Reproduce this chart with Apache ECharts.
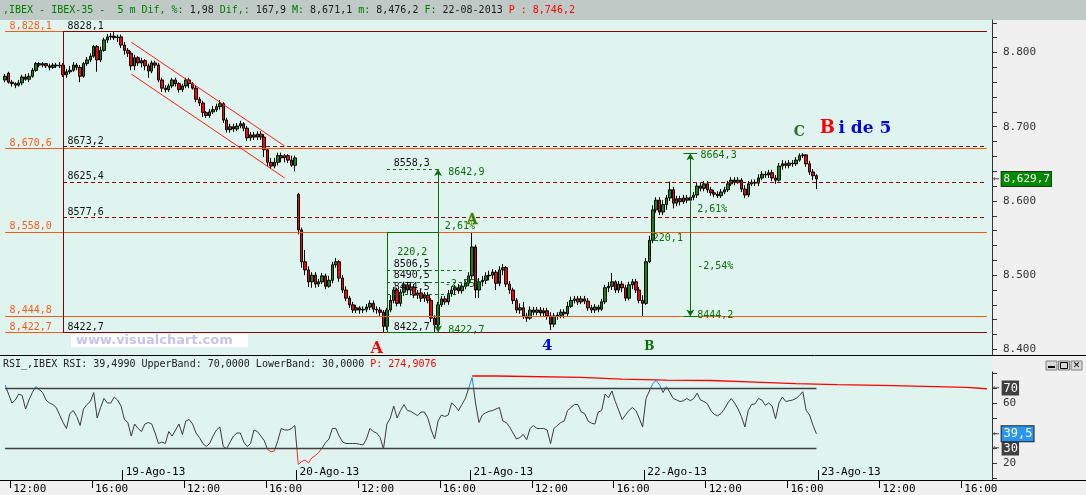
<!DOCTYPE html>
<html><head><meta charset="utf-8">
<script src="https://cdn.jsdelivr.net/npm/echarts@6/dist/echarts.min.js"></script>
<style>html,body{margin:0;padding:0;background:#f0f0f0;overflow:hidden}#c{width:1086px;height:495px}</style>
</head><body><div id="c"></div>
<script>
// ---------- DATA ----------
const days = ['16-Ago-13','19-Ago-13','20-Ago-13','21-Ago-13','22-Ago-13','23-Ago-13'];
// 10-minute candles [open, close, low, high]
const c16 = [[8763,8768,8760,8771],[8772,8760,8758,8774],[8760,8758,8754,8763],[8758,8756,8752,8760],[8756,8759,8754,8763],[8759,8767,8756,8770],[8767,8764,8762,8771],[8764,8768,8760,8772],[8768,8776,8766,8779],[8776,8785,8774,8787],
[8785,8783,8780,8787],[8783,8785,8780,8787],[8785,8782,8779,8786],[8782,8780,8776,8785],[8780,8783,8778,8786],[8783,8782,8779,8786],[8782,8783,8779,8787],[8783,8770,8767,8786],[8770,8774,8766,8778],[8774,8776,8771,8782],
[8776,8783,8774,8787],[8783,8780,8776,8786],[8780,8768,8760,8783],[8768,8785,8766,8787],[8785,8790,8782,8794],[8790,8795,8787,8799],[8795,8808,8793,8810],[8808,8790,8774,8810],[8790,8803,8787,8808],[8803,8817,8801,8820],
[8817,8821,8813,8825],[8821,8822,8817,8826],[8822,8820,8817,8828.1],[8820,8821,8814,8824],[8821,8810,8806,8824]];
const c19 = [[8810,8803,8797,8814],[8803,8799,8794,8806],[8799,8782,8776,8802],[8782,8793,8776,8797],[8793,8786,8782,8795],[8786,8789,8780,8793],[8789,8782,8776,8791],[8782,8775,8766,8785],[8775,8786,8772,8789],[8786,8783,8779,8789],
[8783,8763,8760,8786],[8763,8752,8747,8766],[8752,8750,8746,8756],[8750,8755,8747,8758],[8755,8763,8752,8766],[8763,8758,8754,8766],[8758,8750,8746,8760],[8750,8755,8747,8758],[8755,8763,8752,8766],[8763,8758,8752,8766],
[8758,8752,8750,8760],[8752,8737,8733,8755],[8737,8732,8728,8740],[8732,8719,8713,8735],[8719,8715,8712,8721],[8715,8720,8712,8724],[8720,8723,8717,8728],[8723,8727,8720,8731],[8727,8731,8723,8736],[8731,8709,8705,8733],
[8709,8696,8692,8712],[8696,8700,8692,8704],[8700,8697,8693,8704],[8697,8701,8694,8705],[8701,8704,8698,8708],[8704,8698,8694,8706],[8698,8685,8681,8701],[8685,8689,8681,8693],[8689,8686,8682,8693],[8686,8690,8682,8694],
[8690,8686,8682,8694],[8686,8669,8659,8690],[8669,8652,8647,8671],[8652,8647,8643,8658],[8647,8652,8644,8658],[8652,8661,8648,8665],[8661,8658,8652,8665],[8658,8661,8652,8663],[8661,8655,8651,8663],[8655,8648,8646,8661],
[8648,8658,8640,8661]];
const c20 = [[8609,8561,8555,8611],[8561,8518,8510,8564],[8518,8507,8500,8534],[8507,8491,8484,8512],[8491,8500,8483,8504],[8500,8488,8483,8504],[8488,8491,8484,8495],[8491,8499,8488,8503],[8499,8485,8481,8502],[8485,8493,8483,8499],
[8493,8514,8489,8518],[8514,8518,8510,8523],[8518,8496,8491,8520],[8496,8480,8476,8500],[8480,8469,8465,8485],[8469,8460,8456,8472],[8460,8453,8449,8464],[8453,8456,8449,8460],[8456,8453,8448,8458],[8453,8454,8449,8458],
[8454,8457,8450,8461],[8457,8462,8453,8466],[8462,8454,8450,8466],[8454,8453,8448,8458],[8453,8450,8445,8457],[8450,8431,8422.7,8453],[8431,8453,8426,8456],[8453,8466,8450,8473],[8466,8480,8462,8484],[8480,8462,8458,8483],
[8462,8477,8458,8481],[8477,8487,8472,8491],[8487,8480,8475,8491],[8480,8484,8473,8489],[8484,8473,8469,8488],[8473,8476,8468,8480],[8476,8469,8464,8480],[8469,8473,8464,8477],[8473,8466,8462,8477],[8466,8442,8437,8469],
[8442,8433,8422.7,8446],[8433,8460,8429,8464],[8460,8468,8457,8472],[8468,8464,8460,8472],[8464,8475,8460,8480],[8475,8480,8471,8485],[8480,8483,8473,8487],[8483,8479,8475,8488],[8479,8485,8475,8489],[8485,8489,8481,8493],
[8489,8499,8485,8504]];
const c21 = [[8499,8538,8495,8558.3],[8538,8480,8469,8541],[8480,8491,8469,8496],[8491,8493,8485,8499],[8493,8499,8488,8504],[8499,8500,8493,8506],[8500,8504,8495,8508],[8504,8489,8480,8507],[8489,8507,8485,8512],[8507,8510,8500,8515],
[8510,8488,8484,8512],[8488,8480,8475,8492],[8480,8466,8461,8483],[8466,8453,8449,8469],[8453,8456,8448,8462],[8456,8445,8441,8464],[8445,8442,8437,8449],[8442,8453,8440,8458],[8453,8450,8446,8457],[8450,8453,8446,8457],
[8453,8449,8445,8457],[8449,8452,8445,8456],[8452,8445,8440,8456],[8445,8434,8426,8450],[8434,8445,8430,8449],[8445,8446,8440,8450],[8446,8450,8442,8454],[8450,8448,8442,8454],[8448,8458,8445,8464],[8458,8466,8456,8471],
[8466,8468,8462,8472],[8468,8464,8460,8472],[8464,8468,8461,8472],[8468,8465,8461,8472],[8465,8456,8452,8469],[8456,8453,8449,8460],[8453,8457,8449,8461],[8457,8454,8450,8460],[8454,8464,8452,8468],[8464,8483,8461,8487],
[8483,8485,8477,8491],[8485,8491,8480,8503],[8491,8480,8476,8493],[8480,8488,8476,8492],[8488,8483,8477,8492],[8483,8469,8465,8487],[8469,8487,8466,8491],[8487,8491,8481,8495],[8491,8480,8476,8495],[8480,8466,8462,8484],
[8466,8462,8444.2,8473]];
const c22 = [[8462,8518,8460,8523],[8518,8547,8516,8553],[8547,8588,8543,8594],[8588,8601,8584,8605],[8601,8585,8581,8605],[8585,8595,8581,8601],[8595,8604,8588,8608],[8604,8615,8600,8626],[8615,8597,8590,8619],[8597,8603,8593,8607],
[8603,8599,8594,8607],[8599,8604,8596,8608],[8604,8601,8597,8608],[8601,8605,8599,8609],[8605,8608,8601,8612],[8608,8620,8604,8624],[8620,8617,8613,8624],[8617,8623,8613,8627],[8623,8615,8611,8627],[8615,8611,8607,8619],
[8611,8609,8605,8615],[8609,8607,8604,8613],[8607,8612,8604,8616],[8612,8615,8609,8619],[8615,8623,8612,8627],[8623,8628,8620,8632],[8628,8625,8621,8632],[8625,8628,8623,8632],[8628,8616,8612,8631],[8616,8608,8604,8621],
[8608,8623,8605,8627],[8623,8625,8620,8629],[8625,8624,8620,8629],[8624,8631,8620,8636],[8631,8636,8628,8640],[8636,8635,8631,8640],[8635,8638,8631,8642],[8638,8631,8627,8642],[8631,8628,8623,8635],[8628,8647,8626,8651],
[8647,8650,8642,8655],[8650,8648,8644,8654],[8648,8651,8644,8655],[8651,8650,8646,8655],[8650,8655,8647,8659],[8655,8661,8653,8664],[8661,8662,8658,8664.3],[8662,8650,8646,8663],[8650,8639,8635,8654],[8639,8634,8628,8643],
[8634,8629.7,8616,8636]];
// RSI per 10-minute bar
const r16 = [72,66,60,62,66,65,56,62,67,71,69,67,62,60,59,57,52,47,43,53,55,51,45,56,59,61,67,50,57,63,60,60,64,62,58];
const r19 = [49,47,38,46,43,41,46,47,46,40,33,34,33,41,38,42,46,39,48,49,46,40,37,33,31,33,38,42,44,31,29.5,34,38,40,40,34,31,33,42,41,38,35,29,27.5,28,35,43,42,42,43,45];
const r20 = [19,21,22,20,23.5,25,27,30,33.5,36,43,43,38,34,33,33,33,33,32.5,32,36,43,41,40,37,29.5,46,50,58,50,55,59,55,54.5,53,51.5,54,54,50,42,36,48,52,51,52,60,58,55,59,63,70];
const r21 = [77,60,47,52,53.5,54.5,55,56,57,48,47,44,40,36,37,39,35.5,43,45,43,43,43,42,33,43,45,47,48,55,57,59,59,54,53,48,46.5,46,54,55,66,63.5,68,61,55,49,52,55,57,55,50,44];
const r22 = [63,68,73,75,72,67,71,67,63,62,61,61.5,63,61.5,63,66.5,62,61,59.5,55,52.5,51.5,53,56,60,63,60,56,51,44,55,59,59.5,63,62,58.5,60,58,49.5,60,64,61,61.5,62,63,65,67.5,55,52,45,39.5];
// red "P" band (step line): bar index where each step starts, and its value
const pStepK = [138,145,170,182,195,208,221,233,245,258,271,283,289];
const pStepV = [78,77.1,75.9,75.3,75,73.9,72.9,72.3,71.8,71.1,70.4,69.5,69.5];
// levels
const orangeLevels = [8828.1, 8670.6, 8558.0, 8444.8, 8422.7];
const orangeLabels = ['8,828,1','8,670,6','8,558,0','8,444,8','8,422,7'];
const fiboLevels = [8828.1, 8673.2, 8625.4, 8577.6, 8422.7];
const fiboLabels = ['8828,1','8673,2','8625,4','8577,6','8422,7'];
const chanK = [38, 83];
const chanUpper = [8814, 8674];
const chanLower = [8771, 8631];
const tool1K = [113, 128];
const tool1Levels = [8558.3, 8422.7, 8642.9];
const tool1Fibo = [8506.5, 8490.5, 8474.5];
const tool1FiboEnd = [136, 138, 134];
const tool2K = 202;
const tool2Levels = [8664.3, 8444.2];
const lastPrice = 8629.7;
const rsiLast = 39.5;
const priceTicks = [8400, 8500, 8600, 8700, 8800];
const rsiTicks = [20, 60];
const noteText  = ['8558,3','8642,9','2,61%','220,2','8506,5','8490,5','8474,5','-2,55%','8422,7','8422,7','8664,3','2,61%','-2,54%','8444,2','220,1'];
const noteK     = [115,131,130,116,115,115,115,130,115,131,205,204,204,204,191];
const notePrice = [8651,8639,8566,8530,8514,8499,8483,8488,8430,8425,8661,8588,8512,8446,8550];
const noteBlack = [true,false,false,false,true,true,true,false,true,false,false,false,false,false,false];
const waveText  = ['A','4','B','C','A'];
const waveK     = [110,160,190,234,138];
const wavePrice = [8400.4,8404.4,8403,8693,8574];

// ---------- BUILD ----------
const MONO = "'DejaVu Sans Mono', monospace";
const SERIF = "'DejaVu Serif', 'Liberation Serif', serif";
const ORANGE = '#ff5a14', DRED = '#8c0000', GREEN = '#0a6e0a';
const cats = [];
days.forEach((d, i) => {
  const start = i === 0 ? 11 * 60 + 30 : 9 * 60;
  for (let m = start; m < 17 * 60 + 30; m += 10) {
    cats.push(d + ' ' + String(Math.floor(m / 60)).padStart(2, '0') + ':' + String(m % 60).padStart(2, '0'));
  }
});
const NB = cats.length;
const timeIdx = [], dayIdx = [];
cats.forEach((c, i) => { if (/(12:00|16:00)$/.test(c)) timeIdx.push(i); if (/ 09:00$/.test(c)) dayIdx.push(i); });
const blank = ['-', '-', '-', '-'];
const candles = [blank].concat(c16, c19, c20, c21, c22);
while (candles.length < NB) candles.push(blank);
const rsi = ['-'].concat(r16, r19, r20, r21, r22);
const LAST = 289;

function seg(p1, p2, lineStyle, label, arrows) {
  const a = { coord: p1, lineStyle: lineStyle, label: label || { show: false } };
  const b = { coord: p2 };
  if (arrows) { a.symbol = 'arrow'; b.symbol = 'arrow'; a.symbolSize = [6, 7]; b.symbolSize = [6, 7]; }
  return [a, b];
}
function topLab(text, color) {
  return { show: true, position: 'insideStartTop', formatter: text, color: color, fontFamily: MONO, fontSize: 10, distance: 0.5, padding: [0, 0, 0, 4] };
}
const solidO = { color: ORANGE, width: 1, type: 'solid' };
const solidR = { color: DRED, width: 1, type: 'solid' };
const dashR = { color: DRED, width: 1, type: [4, 3] };
const solidG = { color: GREEN, width: 1, type: 'solid' };
const dashG = { color: GREEN, width: 1, type: [3, 3] };
const chan = { color: '#ff1a1a', width: 1, type: 'solid' };

const mainLines = [];
orangeLevels.forEach((v, i) => {
  const end = (i === 0 || i === 4) ? 18 : LAST;
  mainLines.push(seg([1, v], [end, v], solidO, topLab(orangeLabels[i], ORANGE)));
});
fiboLevels.forEach((v, i) => {
  const st = (i === 0 || i === 4) ? solidR : dashR;
  mainLines.push(seg([18, v], [LAST, v], st, topLab(fiboLabels[i], '#111')));
});
mainLines.push(seg([18, fiboLevels[0]], [18, fiboLevels[4]], solidR));
mainLines.push(seg([chanK[0], chanUpper[0]], [chanK[1], chanUpper[1]], chan));
mainLines.push(seg([chanK[0], chanLower[0]], [chanK[1], chanLower[1]], chan));
// tool 1
mainLines.push(seg([tool1K[0], tool1Levels[0]], [tool1K[1], tool1Levels[0]], solidG));
mainLines.push(seg([tool1K[0], tool1Levels[1]], [tool1K[1], tool1Levels[1]], solidG));
mainLines.push(seg([tool1K[0], tool1Levels[0]], [tool1K[0], tool1Levels[1]], solidG));
mainLines.push(seg([tool1K[0], tool1Levels[2]], [tool1K[1], tool1Levels[2]], dashG));
mainLines.push(seg([tool1K[1], tool1Levels[1]], [tool1K[1], tool1Levels[2]], solidG, null, true));
tool1Fibo.forEach((v, i) => mainLines.push(seg([tool1K[0], v], [tool1FiboEnd[i], v], dashG)));
// tool 2
mainLines.push(seg([tool2K, tool2Levels[1]], [tool2K, tool2Levels[0]], solidG, null, true));
mainLines.push(seg([tool2K - 2, tool2Levels[0]], [tool2K + 2, tool2Levels[0]], solidG));
mainLines.push(seg([tool2K - 2, tool2Levels[1]], [tool2K + 2, tool2Levels[1]], solidG));
// last price box
mainLines.push({ yAxis: lastPrice, lineStyle: { color: 'rgba(0,0,0,0)', width: 0 },
  label: { show: true, position: 'end', distance: 1, formatter: '{a|←}{b|8,629,7}',
    rich: { a: { color: '#555', fontSize: 11, fontFamily: MONO, padding: [0, 2, 0, 0] },
            b: { backgroundColor: '#008a00', borderColor: '#1a3a1a', borderWidth: 1, color: '#fff', fontSize: 11, fontFamily: MONO, padding: [2, 1, 1, 2] } } } });

const points = [];
noteText.forEach((t, i) => points.push({ coord: [noteK[i], notePrice[i]], symbolSize: 0,
  label: { show: true, position: 'right', distance: 0, formatter: t, color: noteBlack[i] ? '#111' : GREEN, fontFamily: MONO, fontSize: 10 } }));
const waveStyle = [
  { color: '#ff0000', fontSize: 16 }, { color: '#0000ee', fontSize: 15 }, { color: '#0a6e0a', fontSize: 12 },
  { color: '#2e6e22', fontSize: 14 }, { color: '#2e7d3e', fontSize: 14, textBorderColor: '#d8c830', textBorderWidth: 1 }];
waveText.forEach((t, i) => points.push({ coord: [waveK[i], wavePrice[i]], symbolSize: 0,
  label: Object.assign({ show: true, position: 'inside', formatter: t, fontWeight: 'bold', fontFamily: SERIF }, waveStyle[i]) }));
points.push({ coord: [240, 8698], symbolSize: 0,
  label: { show: true, position: 'right', distance: 0, formatter: '{r|B} {b|i de 5}',
    rich: { r: { color: '#ff0000', fontSize: 18, fontWeight: 'bold', fontFamily: SERIF },
            b: { color: '#0000ee', fontSize: 17, fontWeight: 'bold', fontFamily: SERIF } } } });

const boxRich = (bg) => ({ a: { color: '#555', fontSize: 11, fontFamily: MONO, padding: [0, 2, 0, 0] },
  b: { backgroundColor: bg, color: '#fff', fontSize: 12, fontFamily: MONO, padding: [2, 1, 1, 2], borderColor: '#222', borderWidth: bg === '#404040' ? 0 : 1 } });
const rsiLineStyle = { color: '#404040', width: 1.3, type: 'solid' };
const rsiLines = [
  seg([1, 70], [239, 70], rsiLineStyle), seg([1, 30], [239, 30], rsiLineStyle),
  { yAxis: 70, lineStyle: { color: 'rgba(0,0,0,0)', width: 0 }, label: { show: true, position: 'end', distance: 1, formatter: '{a|←}{b|70}', rich: boxRich('#404040') } },
  { yAxis: 30, lineStyle: { color: 'rgba(0,0,0,0)', width: 0 }, label: { show: true, position: 'end', distance: 1, formatter: '{a|←}{b|30}', rich: boxRich('#404040') } },
  { yAxis: rsiLast, lineStyle: { color: 'rgba(0,0,0,0)', width: 0 }, label: { show: true, position: 'end', distance: 1, formatter: '{a|←}{b|39,5}', rich: boxRich('#2896ee') } }
];

const range = (a, b, s) => { const r = []; for (let v = a; v <= b; v += s) r.push(v); return r; };

const chart = echarts.init(document.getElementById('c'), null, { renderer: 'canvas' });
chart.setOption({
  animation: false,
  backgroundColor: '#f0f0f0',
  grid: [
    { left: 0, top: 20, width: 992, height: 335 },
    { left: 0, top: 372, width: 992, height: 108 }
  ],
  xAxis: [
    { type: 'category', gridIndex: 0, data: cats, show: false },
    { type: 'category', gridIndex: 1, data: cats, show: false },
    { type: 'value', gridIndex: 1, min: 0, max: NB, position: 'bottom',
      axisLine: { show: true, onZero: false, lineStyle: { color: '#000', width: 1 } },
      axisTick: { show: true, customValues: timeIdx, length: 8, lineStyle: { color: '#000' } },
      axisLabel: { customValues: timeIdx, formatter: v => cats[v].slice(-5), align: 'left', padding: [0, 0, 0, 3], margin: 4, color: '#000', fontFamily: MONO, fontSize: 11 },
      splitLine: { show: false } },
    { type: 'value', gridIndex: 1, min: 0, max: NB, position: 'bottom',
      axisLine: { show: false, onZero: false },
      axisTick: { show: true, inside: true, customValues: dayIdx, length: 10, lineStyle: { color: '#000' } },
      axisLabel: { inside: true, customValues: dayIdx, formatter: v => cats[v].slice(0, 9), align: 'left', padding: [0, 0, 0, 3], margin: 2, color: '#000', fontFamily: MONO, fontSize: 11 },
      splitLine: { show: false } }
  ],
  yAxis: [
    { type: 'value', gridIndex: 0, position: 'right', min: 8392.4, max: 8843.8,
      axisLine: { show: true, onZero: false, lineStyle: { color: '#333' } },
      axisTick: { show: true, customValues: range(8400, 8840, 20), length: 5, lineStyle: { color: '#333' } },
      axisLabel: { customValues: priceTicks, formatter: v => (v / 1000).toFixed(3), margin: 11, color: '#333', fontFamily: MONO, fontSize: 11 },
      splitLine: { show: false } },
    { type: 'value', gridIndex: 1, position: 'right', min: 8.67, max: 80.67,
      axisLine: { show: true, onZero: false, lineStyle: { color: '#333' } },
      axisTick: { show: true, customValues: range(10, 80, 10), length: 5, lineStyle: { color: '#333' } },
      axisLabel: { customValues: rsiTicks, margin: 11, color: '#333', fontFamily: MONO, fontSize: 11 },
      splitLine: { show: false } }
  ],
  visualMap: { show: false, type: 'piecewise', seriesIndex: 1, dimension: 1,
    pieces: [{ gt: 70, color: '#1e88e8' }, { lt: 30, color: '#ff2a2a' }, { gte: 30, lte: 70, color: '#3a3a3a' }] },
  series: [
    { type: 'candlestick', xAxisIndex: 0, yAxisIndex: 0, data: candles, barWidth: 3,
      itemStyle: { color: '#0b8a0b', color0: '#ff0000', borderColor: '#000', borderColor0: '#000', borderWidth: 1 },
      markLine: { silent: true, symbol: ['none', 'none'], label: { show: false }, data: mainLines, animation: false },
      markPoint: { silent: true, symbol: 'circle', itemStyle: { color: 'rgba(0,0,0,0)' }, data: points, animation: false } },
    { type: 'line', xAxisIndex: 1, yAxisIndex: 1, data: rsi, showSymbol: false, symbol: 'none',
      lineStyle: { width: 1 }, z: 3,
      markLine: { silent: true, symbol: ['none', 'none'], label: { show: false }, data: rsiLines, animation: false } },
    { type: 'line', xAxisIndex: 1, yAxisIndex: 1, step: 'end', showSymbol: false, symbol: 'none',
      data: pStepK.map((k, i) => [k, pStepV[i]]), lineStyle: { color: '#ff0000', width: 1.3 }, itemStyle: { color: '#ff0000' } }
  ],
  graphic: [
    { type: 'rect', z: -10, silent: true, shape: { x: 0, y: 0, width: 1086, height: 20 }, style: { fill: '#bfcac6' } },
    { type: 'rect', z: -10, silent: true, shape: { x: 0, y: 20, width: 992, height: 335 }, style: { fill: '#e0f4ef' } },
    { type: 'rect', z: -10, silent: true, shape: { x: 0, y: 356, width: 992, height: 124 }, style: { fill: '#e0f4ef' } },
    { type: 'line', z: 50, silent: true, shape: { x1: 0, y1: 355.5, x2: 1086, y2: 355.5 }, style: { stroke: '#000', lineWidth: 1 } },
    { type: 'line', z: 50, silent: true, shape: { x1: 0, y1: 480.5, x2: 1086, y2: 480.5 }, style: { stroke: '#000', lineWidth: 1 } },
    { type: 'text', z: 50, silent: true, style: { x: 3, y: 10, verticalAlign: 'middle', font: "10px 'DejaVu Sans Mono'",
      text: '{g|,IBEX - IBEX-35 -  5 m Dif, %: }{k|1,98 }{g|Dif,: }{k|167,9 }{g|M: }{k|8,671,1 }{g|m: }{k|8,476,2 }{g|F: }{k|22-08-2013 }{r|P : 8,746,2}',
      rich: { g: { fill: '#007a00', font: "10px 'DejaVu Sans Mono'" }, k: { fill: '#1a1a1a', font: "10px 'DejaVu Sans Mono'" }, r: { fill: '#ff0000', font: "10px 'DejaVu Sans Mono'" } } } },
    { type: 'text', z: 50, silent: true, style: { x: 3, y: 364, verticalAlign: 'middle', font: "10px 'DejaVu Sans Mono'",
      text: '{k|RSI_,IBEX RSI: 39,4990 UpperBand: 70,0000 LowerBand: 30,0000 }{r|P: 274,9076}',
      rich: { k: { fill: '#202020', font: "10px 'DejaVu Sans Mono'" }, r: { fill: '#ff0000', font: "10px 'DejaVu Sans Mono'" } } } },
    { type: 'rect', z: 60, silent: true, shape: { x: 71, y: 334, width: 177, height: 13 }, style: { fill: '#ffffff' } },
    { type: 'text', z: 61, silent: true, style: { x: 76, y: 341, verticalAlign: 'middle', text: 'www.visualchart.com', font: "bold 13px 'DejaVu Sans'", fill: '#c4c4ee' } },
    { type: 'rect', z: 60, silent: true, shape: { x: 1046, y: 361, width: 11, height: 9 }, style: { fill: '#d8d8d8', stroke: '#808080', lineWidth: 1 } },
    { type: 'rect', z: 61, silent: true, shape: { x: 1048, y: 366, width: 7, height: 2 }, style: { fill: '#000' } },
    { type: 'rect', z: 60, silent: true, shape: { x: 1058.5, y: 361, width: 11, height: 9 }, style: { fill: '#d8d8d8', stroke: '#808080', lineWidth: 1 } },
    { type: 'rect', z: 61, silent: true, shape: { x: 1060.5, y: 362.5, width: 7, height: 6 }, style: { fill: 'none', stroke: '#000', lineWidth: 1 } },
    { type: 'rect', z: 60, silent: true, shape: { x: 1071, y: 361, width: 11, height: 9 }, style: { fill: '#d8d8d8', stroke: '#808080', lineWidth: 1 } },
    { type: 'text', z: 61, silent: true, style: { x: 1076.5, y: 366, align: 'center', verticalAlign: 'middle', text: '✕', font: "bold 9px 'DejaVu Sans'", fill: '#000' } }
  ]
});
</script></body></html>
